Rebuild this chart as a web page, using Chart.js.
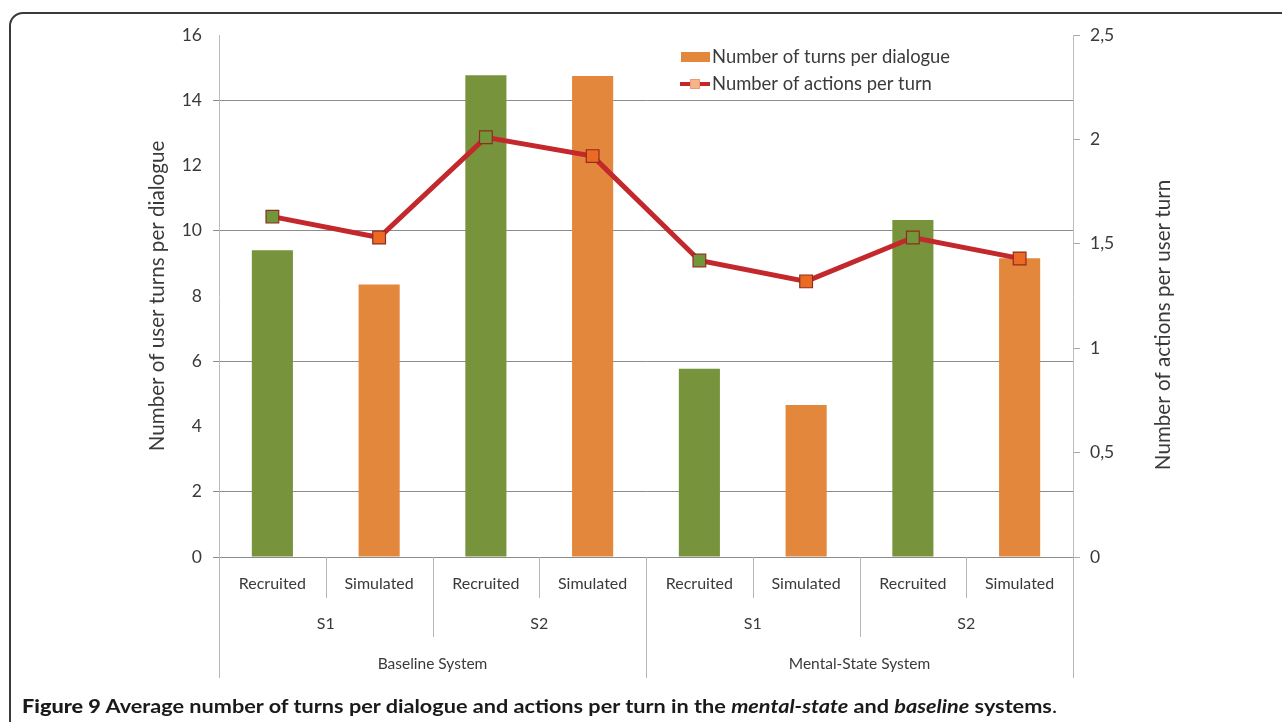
<!DOCTYPE html>
<html>
<head>
<meta charset="utf-8">
<script src="https://cdn.jsdelivr.net/npm/chart.js@4.4.1/dist/chart.umd.min.js"></script>
<style>
  html, body { margin: 0; padding: 0; background: #fff; }
  body { width: 1282px; height: 722px; position: relative; overflow: hidden; }
  #frame {
    position: absolute; left: 9px; top: 12px; width: 1300px; height: 760px;
    border: 2px solid #3a3a3a; border-top-left-radius: 14px; box-sizing: border-box;
  }
  #chart { position: absolute; left: 0; top: 0; }
  #caption {
    position: absolute; left: 22px; top: 694px; white-space: nowrap;
    font-family: Lato, "Noto Sans", sans-serif; font-weight: bold; font-size: 19.5px;
    color: #1a1a1a; transform-origin: 0 50%;
  }
  #caption .dot { font-weight: normal; }
</style>
</head>
<body>
<div id="frame"></div>
<canvas id="chart" width="1282" height="722"></canvas>
<div id="caption"><b>Figure 9</b> Average number of turns per dialogue and actions per turn in the <i>mental-state</i> and <i>baseline</i> systems<span class="dot">.</span></div>
<script>
// Per-bar participant type, grouped by scenario and system
const conditions = ['Recruited', 'Simulated', 'Recruited', 'Simulated', 'Recruited', 'Simulated', 'Recruited', 'Simulated'];
const scenarios = ['S1', 'S2', 'S1', 'S2'];
const systems = ['Baseline System', 'Mental-State System'];

// Number of user turns per dialogue (left axis)
const turnsPerDialogue = [9.4, 8.35, 14.77, 14.74, 5.77, 4.66, 10.33, 9.16];
// Number of actions per user turn (right axis)
const actionsPerTurn = [1.63, 1.53, 2.01, 1.92, 1.42, 1.32, 1.53, 1.43];

const seriesNames = ['Number of turns per dialogue', 'Number of actions per turn'];
const leftTitle = 'Number of user turns per dialogue';
const rightTitle = 'Number of actions per user turn';

const FONT = 'Lato, "Noto Sans", sans-serif';
const TEXT = '#3a3a3a';
const GREEN = '#77933c';
const ORANGE = '#e2873b';
const LINE_RED = '#c3282c';
const MARK_GREEN = '#71973a';
const MARK_ORANGE = '#ec6a24';

const barColors = conditions.map(c => c === 'Recruited' ? GREEN : ORANGE);
const markColors = conditions.map(c => c === 'Recruited' ? MARK_GREEN : MARK_ORANGE);

// Axis titles, legend and the three-level category axis
const decorations = {
  id: 'decorations',
  afterDraw(chart) {
    const ctx = chart.ctx;
    const x = chart.scales.x;
    const area = chart.chartArea;
    const n = conditions.length;
    const px = i => x.getPixelForValue(i);
    const step = px(1) - px(0);
    const edge = i => px(0) - step / 2 + i * step;
    const bottom = area.bottom;

    ctx.save();
    // separators below the plot
    ctx.strokeStyle = '#b5b5b5';
    ctx.lineWidth = 1;
    for (let i = 0; i <= n; i++) {
      let len = 41;
      if (i % 4 === 0) len = 121;
      else if (i % 2 === 0) len = 80;
      const xx = Math.round(edge(i)) + 0.5;
      ctx.beginPath();
      ctx.moveTo(xx, bottom);
      ctx.lineTo(xx, bottom + len);
      ctx.stroke();
    }

    ctx.fillStyle = TEXT;
    ctx.textAlign = 'center';
    ctx.textBaseline = 'middle';
    ctx.font = '16px ' + FONT;
    conditions.forEach((c, i) => ctx.fillText(c, px(i), bottom + 27));
    scenarios.forEach((s, j) => ctx.fillText(s, (edge(2 * j) + edge(2 * j + 2)) / 2, bottom + 67));
    ctx.font = '15.5px ' + FONT;
    systems.forEach((s, k) => ctx.fillText(s, (edge(4 * k) + edge(4 * k + 4)) / 2, bottom + 107));

    // axis titles
    ctx.font = '20.6px ' + FONT;
    ctx.save();
    ctx.translate(157, (area.top + area.bottom) / 2);
    ctx.rotate(-Math.PI / 2);
    ctx.fillText(leftTitle, 0, 0);
    ctx.restore();
    ctx.save();
    ctx.translate(1163, 325);
    ctx.rotate(-Math.PI / 2);
    ctx.fillText(rightTitle, 0, 0);
    ctx.restore();

    // legend
    ctx.textAlign = 'left';
    ctx.font = '18.4px ' + FONT;
    ctx.fillStyle = ORANGE;
    ctx.fillRect(681, 52, 29, 10);
    ctx.fillStyle = TEXT;
    ctx.fillText(seriesNames[0], 712, 57);
    ctx.strokeStyle = LINE_RED;
    ctx.lineWidth = 4;
    ctx.beginPath();
    ctx.moveTo(680, 84);
    ctx.lineTo(710, 84);
    ctx.stroke();
    ctx.fillStyle = '#f6b588';
    ctx.fillRect(690, 79, 10, 10);
    ctx.strokeStyle = '#ee9a78';
    ctx.lineWidth = 1;
    ctx.strokeRect(690.5, 79.5, 9, 9);
    ctx.fillStyle = TEXT;
    ctx.fillText(seriesNames[1], 712, 84);
    ctx.restore();
  }
};

new Chart(document.getElementById('chart'), {
  data: {
    labels: conditions,
    datasets: [
      {
        type: 'line',
        label: seriesNames[1],
        data: actionsPerTurn,
        yAxisID: 'y1',
        borderColor: LINE_RED,
        borderWidth: 5,
        pointStyle: 'rect',
        pointRadius: 9,
        pointBackgroundColor: markColors,
        pointBorderColor: '#8e2e1e',
        pointBorderWidth: 1.2,
        tension: 0,
        order: 0
      },
      {
        type: 'bar',
        label: seriesNames[0],
        data: turnsPerDialogue,
        yAxisID: 'y',
        backgroundColor: barColors,
        categoryPercentage: 1,
        barPercentage: 0.385,
        order: 1
      }
    ]
  },
  options: {
    responsive: false,
    animation: false,
    layout: { padding: { left: 140, right: 107, top: 35, bottom: 0 } },
    plugins: { legend: { display: false }, tooltip: { enabled: false } },
    scales: {
      x: {
        type: 'category',
        offset: true,
        grid: { display: false },
        border: { display: false },
        ticks: { display: false },
        afterFit(scale) { scale.height = 165; }
      },
      y: {
        position: 'left',
        min: 0, max: 16,
        ticks: { stepSize: 2, color: TEXT, font: { family: FONT, size: 17.5 }, padding: 11 },
        grid: {
          color: c => (c.tick.value % 4 === 2 || c.tick.value === 0) ? '#8c8c8c' : 'rgba(0,0,0,0)',
          tickColor: c => (c.tick.value % 4 === 2 || c.tick.value === 0) ? '#8c8c8c' : 'rgba(0,0,0,0)',
          tickLength: 6
        },
        border: { color: '#bdbdbd' },
        afterFit(scale) { scale.width = 79; }
      },
      y1: {
        position: 'right',
        min: 0, max: 2.5,
        ticks: {
          stepSize: 0.5, color: TEXT, font: { family: FONT, size: 17.5 }, padding: 10,
          callback: v => String(v).replace('.', ',')
        },
        grid: { drawOnChartArea: false, tickColor: '#a8a8a8', tickLength: 7 },
        border: { color: '#bdbdbd' },
        afterFit(scale) { scale.width = 102; }
      }
    }
  },
  plugins: [decorations]
});

// the caption line is stretched to span the figure width
const caption = document.getElementById('caption');
const natural = caption.getBoundingClientRect().width;
caption.style.transform = 'scaleX(' + (1035 / natural) + ')';
</script>
</body>
</html>
